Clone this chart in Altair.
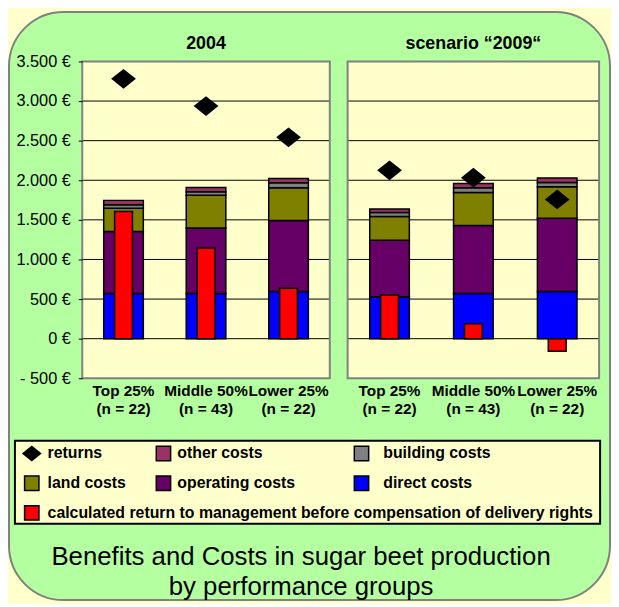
import altair as alt
import pandas as pd

FONT = "Liberation Sans"
YELLOW = "#FFFFCC"
GREEN = "#B4FFA0"

groups = ["Top 25%|(n = 22)", "Middle 50%|(n = 43)", "Lower 25%|(n = 22)"]
components = ["direct costs", "operating costs", "land costs", "building costs", "other costs"]
comp_colors = ["#0000FF", "#660066", "#808000", "#808080", "#993366"]

direct_2004 = [570, 570, 596]
operating_2004 = [784, 826, 896]
land_2004 = [292, 416, 412]
building_2004 = [45, 42, 63]
other_2004 = [55, 54, 54]
management_2004 = [1605, 1146, 637]
returns_2004 = [3280, 2937, 2542]

direct_2009 = [529, 571, 596]
operating_2009 = [713, 858, 925]
land_2009 = [300, 417, 396]
building_2009 = [50, 58, 54]
other_2009 = [45, 54, 58]
management_2009 = [550, 187, -158]
returns_2009 = [2125, 2033, 1758]

grid_values = [0, 500, 1000, 1500, 2000, 2500, 3000]
y_ticks = [-500, 0, 500, 1000, 1500, 2000, 2500, 3000, 3500]

legend_labels = ["returns", "other costs", "building costs",
                 "land costs", "operating costs", "direct costs",
                 "calculated return to management before compensation of delivery rights"]
legend_rows = [0, 0, 0, 1, 1, 1, 2]
legend_cols = [0, 1, 2, 0, 1, 2, 0]
square_labels = legend_labels[1:]
square_fills = ["#993366", "#808080", "#808000", "#660066", "#0000FF", "#FF0000"]

DIAMOND = "M-1.25,0L0,-1L1.25,0L0,1Z"
PH = 320


def make_panel(title, costs, mgmt, rets, width, first):
    rows = []
    for k, c in enumerate(components):
        for i, g in enumerate(groups):
            rows.append({"group": g, "component": c, "ord": k, "value": costs[k][i]})
    cost_df = pd.DataFrame(rows)
    mgmt_df = pd.DataFrame({"group": groups, "value": mgmt, "base": [0] * len(groups)})
    ret_df = pd.DataFrame({"group": groups, "value": rets})
    grid_df = pd.DataFrame({"value": grid_values})
    one = pd.DataFrame({"k": [0]})

    xscale = alt.Scale(domain=groups, paddingInner=0, paddingOuter=0)
    xaxis = alt.Axis(title=None, labelExpr="split(datum.label, '|')", labelAngle=0,
                     labelFont=FONT, labelFontSize=15.5, labelFontWeight="bold",
                     labelColor="black", labelLineHeight=19, labelPadding=5,
                     ticks=False, domain=False, grid=False, labelOverlap=False, zindex=1)
    yscale = alt.Scale(domain=[-500, 3500], nice=False)
    if first:
        yaxis = alt.Axis(title=None, values=y_ticks,
                         labelExpr="(datum.value < 0 ? '- ' : '') + replace(format(abs(datum.value), ','), ',', '.') + ' €'",
                         labelFont=FONT, labelFontSize=16.5, labelColor="black",
                         tickColor="black", tickSize=4, tickWidth=1, labelPadding=8,
                         domain=False, grid=False, zindex=1)
    else:
        yaxis = None

    layers = []
    if first:
        layers.append(alt.Chart(one).mark_rect(fill=GREEN, stroke="#808080", strokeWidth=2,
                                               cornerRadius=55).encode(
            x=alt.value(-74), x2=alt.value(533), y=alt.value(-50), y2=alt.value(544)))
    layers.append(alt.Chart(one).mark_rect(fill=YELLOW).encode(
        x=alt.value(0), x2=alt.value(width), y=alt.value(0), y2=alt.value(PH)))
    layers.append(alt.Chart(grid_df).mark_rule(color="black", strokeWidth=1).encode(
        y=alt.Y("value:Q", scale=yscale, axis=yaxis),
        x=alt.value(0), x2=alt.value(width)))
    layers.append(alt.Chart(cost_df).mark_bar(size=40, stroke="black", strokeWidth=1.5).encode(
        x=alt.X("group:N", scale=xscale, axis=xaxis),
        y=alt.Y("value:Q", stack="zero", scale=yscale, axis=yaxis),
        color=alt.Color("component:N", scale=alt.Scale(domain=components, range=comp_colors), legend=None),
        order=alt.Order("ord:Q")))
    layers.append(alt.Chart(mgmt_df).mark_bar(size=18, color="#FF0000", stroke="black", strokeWidth=1.5).encode(
        x=alt.X("group:N", scale=xscale, axis=xaxis),
        y=alt.Y("value:Q", scale=yscale, axis=yaxis),
        y2="base:Q"))
    layers.append(alt.Chart(ret_df).mark_point(shape=DIAMOND, size=400, filled=True, color="black", opacity=1).encode(
        x=alt.X("group:N", scale=xscale, axis=xaxis),
        y=alt.Y("value:Q", scale=yscale, axis=yaxis)))
    layers.append(alt.Chart(one).mark_rect(fillOpacity=0, stroke="#808080", strokeWidth=2).encode(
        x=alt.value(0), x2=alt.value(width), y=alt.value(0), y2=alt.value(PH)))
    layers.append(alt.Chart(one).mark_text(text=title, font=FONT, fontSize=18, fontWeight="bold",
                                           color="black", baseline="alphabetic", align="center").encode(
        x=alt.value(width / 2), y=alt.value(-13)))
    return alt.layer(*layers).properties(width=width, height=PH)


p1 = make_panel("2004", [direct_2004, operating_2004, land_2004, building_2004, other_2004],
                management_2004, returns_2004, 250, True)
p2 = make_panel("scenario \u201c2009\u201c", [direct_2009, operating_2009, land_2009, building_2009, other_2009],
                management_2009, returns_2009, 254, False)

leg_df = pd.DataFrame({"label": legend_labels, "row": legend_rows, "col": legend_cols})
one = pd.DataFrame({"k": [0]})
row_scale = alt.Scale(domain=[0, 2], range=[13, 73])
sym_scale = alt.Scale(domain=[0, 1, 2], range=[-51, 82, 282])

box = alt.Chart(one).mark_rect(fill=YELLOW, stroke="black", strokeWidth=2).encode(
    x=alt.value(-68), x2=alt.value(523), y=alt.value(0), y2=alt.value(84))
diam = alt.Chart(leg_df).transform_filter(alt.datum.label == "returns").mark_point(
    shape=DIAMOND, size=256, filled=True, color="black", opacity=1).encode(
    x=alt.X("col:Q", scale=sym_scale, axis=None),
    y=alt.Y("row:Q", scale=row_scale, axis=None))
squares = alt.Chart(leg_df).transform_filter(alt.datum.label != "returns").mark_square(
    size=210, stroke="black", strokeWidth=1.5, opacity=1).encode(
    x=alt.X("col:Q", scale=sym_scale, axis=None),
    y=alt.Y("row:Q", scale=row_scale, axis=None),
    fill=alt.Fill("label:N", scale=alt.Scale(domain=square_labels, range=square_fills), legend=None))
texts = alt.Chart(leg_df).mark_text(align="left", baseline="middle", font=FONT, fontSize=16,
                                    fontWeight="bold", color="black").encode(
    x=alt.X("col:Q", scale=alt.Scale(domain=[0, 1, 2], range=[-35, 96, 304]), axis=None),
    y=alt.Y("row:Q", scale=row_scale, axis=None),
    text="label:N")
title1 = alt.Chart(one).mark_text(text="Benefits and Costs in sugar beet production", font=FONT,
                                  fontSize=26, color="black", align="center", baseline="alphabetic").encode(
    x=alt.value(221), y=alt.value(126))
title2 = alt.Chart(one).mark_text(text="by performance groups", font=FONT,
                                  fontSize=26, color="black", align="center", baseline="alphabetic").encode(
    x=alt.value(221), y=alt.value(156))

legend = alt.layer(box, diam, squares, texts, title1, title2).resolve_scale(x="independent").properties(
    width=250, height=84)

chart = alt.concat(p1, p2, legend, columns=2, spacing={"row": 63, "column": 18},
                   bounds="flush", align="each").properties(
    background=YELLOW, padding=0).configure_view(strokeWidth=0)

chart.save("out.html", embed_options={"renderer": "svg", "actions": False})
